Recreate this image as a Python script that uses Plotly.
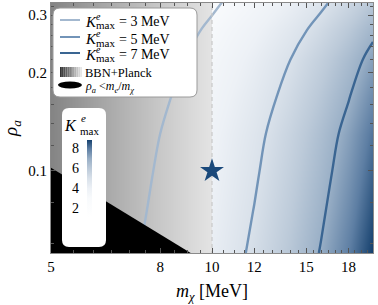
import plotly.graph_objects as go
import numpy as np

# ---------------- data ----------------
m_chi = [5, 6, 7, 8, 9, 10, 12, 14, 16, 18, 20]                     # MeV
rho_a = [0.056, 0.075, 0.1, 0.13, 0.17, 0.22, 0.27, 0.33]
# K^e_max [MeV] (rows: rho_a, cols: m_chi)
K_max = [
    [1.90, 2.37, 2.84, 3.31, 3.78, 4.25, 5.19, 6.13, 7.07, 8.01, 8.95],
    [1.83, 2.29, 2.74, 3.20, 3.66, 4.11, 5.03, 5.94, 6.85, 7.76, 8.68],
    [1.77, 2.21, 2.65, 3.10, 3.54, 3.98, 4.87, 5.76, 6.64, 7.53, 8.42],
    [1.71, 2.14, 2.57, 3.00, 3.43, 3.86, 4.72, 5.59, 6.45, 7.31, 8.17],
    [1.60, 2.01, 2.42, 2.83, 3.24, 3.66, 4.48, 5.30, 6.12, 6.94, 7.76],
    [1.49, 1.88, 2.27, 2.66, 3.05, 3.43, 4.21, 4.99, 5.76, 6.54, 7.32],
    [1.36, 1.72, 2.08, 2.44, 2.80, 3.17, 3.89, 4.61, 5.33, 6.06, 6.78],
    [1.19, 1.52, 1.85, 2.18, 2.51, 2.84, 3.49, 4.15, 4.81, 5.47, 6.12],
]
contour_levels = [3, 5, 7]
contour_colors = ["#a3b8cf", "#7294b8", "#3a6592"]
contour_labels = ["3", "5", "7"]

# BBN+Planck shading (grey level) vs m_chi
bbn_m = [5, 6, 7, 8, 9, 10]
bbn_gray = [132, 160, 182, 200, 215, 228]
bbn_rho = [0.05, 0.35]

m_e = 0.511
bench_m = [10]
bench_rho = [0.1]

x_ticks = [5, 8, 10, 12, 15, 18]
y_ticks = [0.1, 0.2, 0.3]
cb_ticks = [2, 4, 6, 8]
zmin, zmax = 1.1, 8.9

FONT = "Liberation Serif"

# ---------------- geometry helpers (pixel -> paper) ----------------
L, R, T, B = 51, 373, 3, 253
def X(x): return (x - L) / (R - L)
def Y(y): return (B - y) / (B - T)

fig = go.Figure()

# K heatmap
fig.add_trace(go.Contour(
    x=m_chi, y=rho_a, z=K_max,
    zauto=False, zmin=zmin, zmax=zmax,
    colorscale=[[0, "#ffffff"], [0.244, "#f8fafc"], [0.372, "#edf1f6"],
                [0.5, "#d9e1ea"], [0.628, "#bccad9"], [0.756, "#99afc6"],
                [0.885, "#5d7ea3"], [1, "#16416e"]],
    contours=dict(coloring="heatmap", showlines=False, start=0, end=20, size=100),
    line=dict(width=0),
    showscale=True,
    colorbar=dict(x=X(87), xanchor="left", y=Y(217), yanchor="bottom",
                  len=(217 - 140) / (B - T), lenmode="fraction",
                  thickness=5, outlinewidth=0, xpad=0, ypad=0,
                  showticklabels=False, ticks=""),
    hoverinfo="skip",
))

# BBN + Planck grey region
fig.add_trace(go.Contour(
    x=bbn_m, y=bbn_rho, z=[bbn_gray, bbn_gray],
    zauto=False, zmin=0, zmax=255,
    colorscale=[[0, "#000000"], [1, "#ffffff"]],
    contours=dict(coloring="heatmap", showlines=False, start=0, end=300, size=1000),
    line=dict(width=0), showscale=False, hoverinfo="skip",
))

# contour lines
for lev, col in zip(contour_levels, contour_colors):
    fig.add_trace(go.Contour(
        x=m_chi, y=rho_a, z=K_max,
        contours=dict(start=lev, end=lev, size=1, coloring="none"),
        line=dict(color=col, width=2.4, smoothing=1.0),
        showscale=False, hoverinfo="skip",
    ))

# rho_a < m_e / m_chi (black)
m_edge = [4.0, m_e / 0.05]
fig.add_trace(go.Scatter(
    x=[m_edge[0], m_edge[1], m_edge[0]],
    y=[m_e / m_edge[0], m_e / m_edge[1], m_e / m_edge[1]],
    fill="toself", fillcolor="black", line=dict(width=0, color="black"),
    mode="lines", hoverinfo="skip",
))

# dashed line at m_chi = 10
fig.add_trace(go.Scatter(
    x=[bench_m[0], bench_m[0]], y=[0.05, 0.35], mode="lines",
    line=dict(color="#c9c9c9", width=1.2, dash="4px,3px"), hoverinfo="skip",
))

# benchmark star
fig.add_trace(go.Scatter(
    x=bench_m, y=bench_rho, mode="markers",
    marker=dict(symbol="star", size=18, color="#1a497b", line=dict(width=0)),
))

# ---------------- axes ----------------
x_minor = [v / 2 for v in range(10, 41) if v / 2 not in x_ticks]
y_minor = [round(0.02 * k, 2) for k in range(3, 17) if round(0.02 * k, 2) not in (0.1, 0.2, 0.3)]

axis_common = dict(
    type="log", showgrid=False, zeroline=False,
    showline=True, linecolor="#8a8a8a", linewidth=1, mirror="allticks",
    ticks="inside", ticklen=5, tickwidth=1, tickcolor="#555555",
    tickfont=dict(family=FONT, size=15, color="black"),
)
fig.update_xaxes(
    **axis_common, range=[np.log10(5), np.log10(20)],
    tickvals=x_ticks, ticktext=[str(v) for v in x_ticks],
    minor=dict(tickvals=x_minor, ticks="inside", ticklen=3, tickcolor="#555555"),
    title=dict(text="<i>m</i><sub><i>χ</i></sub> [MeV]",
               font=dict(family=FONT, size=18, color="black"), standoff=10),
)
fig.update_yaxes(
    **axis_common, range=[np.log10(0.056), np.log10(0.327)],
    tickvals=y_ticks, ticktext=[str(v) for v in y_ticks],
    minor=dict(tickvals=y_minor, ticks="inside", ticklen=3, tickcolor="#555555"),
    title=dict(text="<i>ρ</i><sub><i>a</i></sub>",
               font=dict(family=FONT, size=19, color="black"), standoff=8),
)

# ---------------- decorations: legend box & colorbar box ----------------
def rrect(x0, y0, x1, y1, r):
    rx, ry = r / (R - L), r / (B - T)
    a, b, c, d = X(x0), Y(y1), X(x1), Y(y0)  # left, bottom, right, top (paper)
    return (f"M {a+rx},{d} L {c-rx},{d} Q {c},{d} {c},{d-ry} "
            f"L {c},{b+ry} Q {c},{b} {c-rx},{b} L {a+rx},{b} "
            f"Q {a},{b} {a},{b+ry} L {a},{d-ry} Q {a},{d} {a+rx},{d} Z")

shapes = []
shapes.append(dict(type="path", path=rrect(53, 8, 197, 97, 7), xref="paper", yref="paper",
                   fillcolor="white", line=dict(color="#9a9a9a", width=1), layer="above"))
shapes.append(dict(type="path", path=rrect(62, 108, 106, 247, 7), xref="paper", yref="paper",
                   fillcolor="white", line=dict(width=0), layer="above"))

annotations = []
rows_y = [20, 37, 53]
for yy, col, lab in zip(rows_y, contour_colors, contour_labels):
    shapes.append(dict(type="line", x0=X(60), x1=X(80), y0=Y(yy), y1=Y(yy),
                       xref="paper", yref="paper", line=dict(color=col, width=2), layer="above"))
    ty = yy + 2
    annotations += [
        dict(text="<i>K</i>", x=X(84), y=Y(ty), xanchor="left", yanchor="middle",
             font=dict(size=15)),
        dict(text="<i>e</i>", x=X(95), y=Y(ty - 5.5), xanchor="left", yanchor="middle",
             font=dict(size=10)),
        dict(text="max", x=X(94.5), y=Y(ty + 3.5), xanchor="left", yanchor="middle",
             font=dict(size=11)),
        dict(text=f"= {lab} MeV", x=X(117.5), y=Y(ty), xanchor="left", yanchor="middle",
             font=dict(size=14)),
    ]

# gradient swatch for BBN+Planck
n_strip = 12
for i in range(n_strip):
    g = int(50 + (230 - 50) * i / (n_strip - 1))
    shapes.append(dict(type="rect", x0=X(60 + 22 * i / n_strip), x1=X(60 + 22 * (i + 1) / n_strip),
                       y0=Y(77), y1=Y(67), xref="paper", yref="paper",
                       fillcolor=f"rgb({g},{g},{g})", line=dict(width=0), layer="above"))
annotations.append(dict(text="BBN+Planck", x=X(84), y=Y(73), xanchor="left", yanchor="middle",
                        font=dict(size=12.5)))
shapes.append(dict(type="circle", x0=X(58), x1=X(82), y0=Y(88.5), y1=Y(81.5),
                   xref="paper", yref="paper", fillcolor="black", line=dict(width=0), layer="above"))
annotations.append(dict(text="<i>ρ</i><sub><i>a</i></sub> &lt;<i>m</i><sub><i>e</i></sub>/<i>m</i><sub><i>χ</i></sub>",
                        x=X(84), y=Y(87), xanchor="left", yanchor="middle", font=dict(size=12)))

# colorbar title and tick labels
annotations += [
    dict(text="<i>K</i>", x=X(78), y=Y(125), xanchor="right", yanchor="middle", font=dict(size=16)),
    dict(text="<i>e</i>", x=X(79.5), y=Y(118), xanchor="left", yanchor="middle", font=dict(size=11)),
    dict(text="max", x=X(79), y=Y(131), xanchor="left", yanchor="middle", font=dict(size=11)),
]
cb_y0, cb_len = Y(217), (217 - 140) / (B - T)
for v in cb_ticks:
    annotations.append(dict(text=str(v), x=X(80), xanchor="right",
                            y=cb_y0 + (v - zmin) / (zmax - zmin) * cb_len, yanchor="middle",
                            font=dict(size=14)))

for a in annotations:
    a.update(xref="paper", yref="paper", showarrow=False, borderpad=0)
    a["font"].update(family=FONT, color="black")

fig.update_layout(
    width=378, height=305,
    margin=dict(l=L, r=378 - R, t=T, b=305 - B),
    paper_bgcolor="white", plot_bgcolor="white",
    showlegend=False,
    shapes=shapes, annotations=annotations,
    font=dict(family=FONT, color="black"),
)

fig.write_html("out.html", config={"displayModeBar": False},
               post_script="document.body.style.margin='0px';")
